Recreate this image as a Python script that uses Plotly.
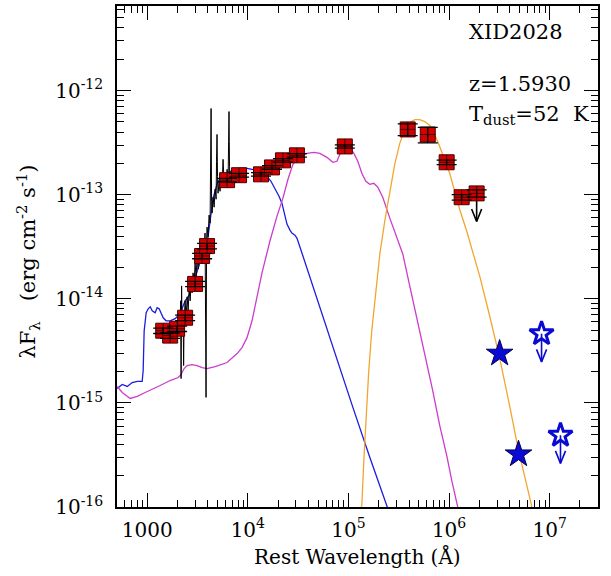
import numpy as np
import plotly.graph_objects as go

# ---------------- data (rest wavelength in Angstrom, lambda*F_lambda in erg cm^-2 s^-1) -------------
phot_wave = [1443, 1691, 1984, 2382, 2994, 3513, 3936, 6223, 8185, 13520, 17380,
             22340, 30760, 92040, 3.88e5, 6.14e5, 9.46e5, 1.334e6, 1.879e6]
phot_flux = [4.94e-15, 4.43e-15, 5.16e-15, 6.58e-15, 1.39e-14, 2.58e-14, 3.21e-14,
             1.38e-13, 1.54e-13, 1.57e-13, 1.83e-13, 2.14e-13, 2.39e-13, 2.91e-13,
             4.24e-13, 3.79e-13, 2.05e-13, 9.46e-14, 1.03e-13]
phot_err_frac = [0.06, 0.06, 0.06, 0.06, 0.06, 0.06, 0.06, 0.04, 0.04, 0.04, 0.04,
                 0.04, 0.04, 0.035, 0.13, 0.17, 0.05, 0.06, 0.08]
phot_upper = [False] * 18 + [True]

radio_wave = [3.18e6, 4.90e6]
radio_flux = [2.98e-15, 3.21e-16]
radio_ul_wave = [8.30e6, 1.28e7]
radio_ul_flux = [4.62e-15, 4.89e-16]

# AGN / unobscured template (blue), log10 values
blue_logwl = [2.702, 2.752, 2.802, 2.851, 2.901, 2.950, 2.960, 2.970, 2.990, 3.010, 3.030,
              3.050, 3.079, 3.099, 3.119, 3.139, 3.159, 3.188, 3.228, 3.278, 3.327, 3.377,
              3.427, 3.466, 3.496, 3.546, 3.595, 3.625, 3.655, 3.694, 3.724, 3.784, 3.853,
              3.923, 3.992, 4.042, 4.091, 4.141, 4.190, 4.230, 4.270, 4.310, 4.339, 4.369,
              4.389, 4.419, 4.438, 4.468, 4.488, 4.538, 4.587, 4.687, 4.786, 4.915, 5.044,
              5.212, 5.431]
blue_logf = [-14.861, -14.823, -14.842, -14.804, -14.794, -14.794, -14.689, -14.306, -14.134,
             -14.096, -14.077, -14.115, -14.134, -14.086, -14.096, -14.144, -14.182, -14.211,
             -14.211, -14.191, -14.144, -14.019, -13.952, -13.828, -13.732, -13.589, -13.474,
             -13.254, -13.033, -12.900, -12.842, -12.794, -12.766, -12.746, -12.746, -12.756,
             -12.766, -12.794, -12.823, -12.871, -12.938, -13.014, -13.081, -13.187, -13.282,
             -13.340, -13.368, -13.388, -13.416, -13.560, -13.703, -14.000, -14.306, -14.670,
             -15.043, -15.522, -16.124]

# host galaxy / starburst template (magenta)
mag_logwl = [2.702, 2.752, 2.831, 2.901, 2.980, 3.050, 3.129, 3.228, 3.308, 3.337, 3.367,
             3.397, 3.446, 3.496, 3.546, 3.595, 3.675, 3.794, 3.893, 3.942, 3.992, 4.042,
             4.091, 4.141, 4.220, 4.290, 4.349, 4.399, 4.448, 4.518, 4.587, 4.657, 4.716,
             4.786, 4.845, 4.885, 4.915, 4.954, 4.984, 5.014, 5.054, 5.093, 5.133, 5.173,
             5.212, 5.252, 5.292, 5.341, 5.411, 5.480, 5.540, 5.609, 5.679, 5.758, 5.837,
             5.907, 5.976, 6.026, 6.085, 6.115]
mag_logf = [-14.842, -14.900, -14.957, -14.938, -14.900, -14.871, -14.833, -14.785, -14.756,
            -14.727, -14.670, -14.641, -14.632, -14.641, -14.660, -14.670, -14.651, -14.612,
            -14.526, -14.469, -14.373, -14.211, -13.990, -13.751, -13.445, -13.206, -13.033,
            -12.852, -12.708, -12.632, -12.603, -12.593, -12.603, -12.641, -12.689, -12.679,
            -12.612, -12.545, -12.517, -12.545, -12.603, -12.679, -12.794, -12.871, -12.900,
            -12.890, -12.928, -13.024, -13.225, -13.407, -13.569, -13.876, -14.182, -14.517,
            -14.880, -15.215, -15.502, -15.742, -15.981, -16.124]

# cold dust greybody (orange)
dust_logwl = [5.103, 5.133, 5.153, 5.173, 5.202, 5.232, 5.272, 5.312, 5.361, 5.411, 5.460,
              5.510, 5.560, 5.609, 5.659, 5.708, 5.758, 5.808, 5.857, 5.907, 5.956, 6.006,
              6.056, 6.105, 6.175, 6.234, 6.304, 6.403, 6.502, 6.601, 6.690, 6.760, 6.819,
              6.839]
dust_logf = [-16.124, -15.981, -15.550, -15.167, -14.689, -14.306, -13.923, -13.569, -13.254,
             -12.967, -12.708, -12.507, -12.373, -12.306, -12.278, -12.278, -12.297, -12.335,
             -12.421, -12.536, -12.660, -12.794, -12.967, -13.139, -13.349, -13.541, -13.780,
             -14.163, -14.565, -15.024, -15.455, -15.742, -15.981, -16.124]

# optical spectrum (black)
spec_logwl = [3.327, 3.332, 3.337, 3.342, 3.347, 3.357, 3.362, 3.367, 3.377, 3.387, 3.397,
              3.407, 3.417, 3.427, 3.437, 3.446, 3.456, 3.466, 3.476, 3.486, 3.496, 3.506,
              3.516, 3.526, 3.536, 3.546, 3.556, 3.565, 3.575, 3.580, 3.585, 3.590, 3.595,
              3.605, 3.615, 3.625, 3.630, 3.635, 3.640, 3.645, 3.655, 3.665, 3.675, 3.685,
              3.689, 3.694, 3.699, 3.704, 3.714, 3.724, 3.734, 3.744, 3.754, 3.764, 3.774,
              3.784, 3.794, 3.804, 3.809, 3.813, 3.818, 3.823, 3.833, 3.843, 3.853, 3.863,
              3.873]
spec_logf = [-14.354, -14.019, -14.766, -13.876, -14.306, -14.115, -14.641, -14.211, -14.019,
             -14.191, -13.981, -14.115, -13.904, -14.019, -13.828, -13.943, -13.751, -13.866,
             -13.656, -13.789, -13.598, -13.713, -13.541, -13.656, -13.483, -13.598, -13.426,
             -13.541, -13.368, -14.019, -14.947, -13.445, -13.311, -13.407, -13.196, -13.273,
             -12.871, -12.172, -13.062, -13.177, -13.024, -13.120, -12.947, -13.043, -12.679,
             -12.421, -12.823, -12.986, -12.890, -12.967, -12.833, -12.928, -12.660, -12.871,
             -12.794, -12.919, -12.756, -12.871, -12.488, -12.201, -12.727, -12.890, -12.794,
             -12.909, -12.833, -12.871, -12.852]

# axes ticks
x_tick_vals = [1e3, 1e4, 1e5, 1e6, 1e7]
x_tick_text = ["1000", "10<sup>4</sup>", "10<sup>5</sup>", "10<sup>6</sup>", "10<sup>7</sup>"]
y_tick_vals = [1e-16, 1e-15, 1e-14, 1e-13, 1e-12]
y_tick_text = ["10<sup>-16</sup>", "10<sup>-15</sup>", "10<sup>-14</sup>",
               "10<sup>-13</sup>", "10<sup>-12</sup>"]
x_decades = [1e2, 1e3, 1e4, 1e5, 1e6, 1e7]
y_decades = [1e-16, 1e-15, 1e-14, 1e-13, 1e-12]
minor_mult = [2, 3, 4, 5, 6, 7, 8, 9]

# ---------------- styles ----------------
FONT = "DejaVu Serif"
RED = "#d40000"
RED_EDGE = "#4a0000"
STAR_BLUE = "#0a0ad2"
ARROW_DEX = 0.27      # arrow length (dex)
HEAD_DEX_Y = 0.12
HEAD_DEX_X = 0.05

fig = go.Figure()

def logline(lx, ly, color, width=1.3):
    fig.add_trace(go.Scatter(x=np.power(10.0, lx), y=np.power(10.0, ly), mode="lines",
                             line=dict(color=color, width=width), hoverinfo="skip"))

logline(blue_logwl, blue_logf, "#1c1ce0")
logline(mag_logwl, mag_logf, "#cc3ccc")
logline(dust_logwl, dust_logf, "#f2a630")
logline(spec_logwl, spec_logf, "black", 1.0)

def add_arrows(xs, ys, color):
    ax, ay = [], []
    for xv, yv in zip(xs, ys):
        lx, ly = np.log10(xv), np.log10(yv)
        tip = ly - ARROW_DEX
        ax += [lx, lx, None, lx - HEAD_DEX_X, lx, lx + HEAD_DEX_X, None]
        ay += [ly, tip, None, tip + HEAD_DEX_Y, tip, tip + HEAD_DEX_Y, None]
    fig.add_trace(go.Scatter(
        x=[None if v is None else 10 ** v for v in ax],
        y=[None if v is None else 10 ** v for v in ay],
        mode="lines", line=dict(color=color, width=1.6), hoverinfo="skip", connectgaps=False))

# upper-limit arrow for the photometric point
ul_x = [w for w, u in zip(phot_wave, phot_upper) if u]
ul_y = [f for f, u in zip(phot_flux, phot_upper) if u]
add_arrows(ul_x, ul_y, "black")

# photometry squares
fig.add_trace(go.Scatter(
    x=phot_wave, y=phot_flux, mode="markers",
    marker=dict(symbol="square-cross", size=15, color=RED,
                line=dict(color=RED_EDGE, width=1)),
    hoverinfo="skip"))

# error bars on top of the squares
err = [f * e for f, e in zip(phot_flux, phot_err_frac)]
fig.add_trace(go.Scatter(
    x=phot_wave, y=phot_flux, mode="markers",
    marker=dict(size=2, opacity=0),
    error_y=dict(type="data", array=err, arrayminus=err, color="black",
                 thickness=1.3, width=10, visible=True),
    hoverinfo="skip"))

# radio points
add_arrows(radio_ul_wave, radio_ul_flux, STAR_BLUE)
fig.add_trace(go.Scatter(
    x=radio_wave, y=radio_flux, mode="markers",
    marker=dict(symbol="star", size=20, color=STAR_BLUE,
                line=dict(color="#00005a", width=1)),
    hoverinfo="skip"))
fig.add_trace(go.Scatter(
    x=radio_ul_wave, y=radio_ul_flux, mode="markers",
    marker=dict(symbol="star-open", size=18, color=STAR_BLUE,
                line=dict(color=STAR_BLUE, width=3)),
    hoverinfo="skip"))

x_minor = [d * m for d in x_decades for m in minor_mult]
y_minor = [d * m for d in y_decades for m in minor_mult]

axis_common = dict(type="log", ticks="inside", ticklen=14, tickwidth=1.2, tickcolor="black",
                   showline=True, linecolor="black", linewidth=1.6, mirror="allticks",
                   showgrid=False, zeroline=False, tickmode="array",
                   tickfont=dict(family=FONT, size=20, color="black"))

fig.update_xaxes(range=[2.70, 7.48], tickvals=x_tick_vals, ticktext=x_tick_text,
                 ticklabelstandoff=4,
                 minor=dict(tickmode="array", tickvals=x_minor, ticks="inside", ticklen=7,
                            tickwidth=1, tickcolor="black", showgrid=False),
                 **axis_common)
fig.update_yaxes(range=[-16, -11.187], tickvals=y_tick_vals, ticktext=y_tick_text,
                 ticklabelstandoff=8,
                 minor=dict(tickmode="array", tickvals=y_minor, ticks="inside", ticklen=7,
                            tickwidth=1, tickcolor="black", showgrid=False),
                 **axis_common)

ann_font = dict(family=FONT, size=21, color="black")
annotations = [
    dict(text="XID2028", x=0.727, y=0.948, xref="paper", yref="paper",
         xanchor="left", yanchor="middle", showarrow=False, font=ann_font),
    dict(text="z=1.5930", x=0.727, y=0.845, xref="paper", yref="paper",
         xanchor="left", yanchor="middle", showarrow=False, font=ann_font),
    dict(text="T<sub>dust</sub>=52  K", x=0.727, y=0.782, xref="paper", yref="paper",
         xanchor="left", yanchor="middle", showarrow=False, font=ann_font),
    dict(text="Rest Wavelength (Å)", x=0.5, y=-0.099, xref="paper", yref="paper",
         xanchor="center", yanchor="middle", showarrow=False,
         font=dict(family=FONT, size=20, color="black")),
    dict(text="λF<sub>λ</sub>   (erg cm<sup>-2</sup> s<sup>-1</sup>)", x=-0.187, y=0.49,
         xref="paper", yref="paper", xanchor="center", yanchor="middle", textangle=-90,
         showarrow=False, font=dict(family=FONT, size=21, color="black")),
]

fig.update_layout(width=611, height=576, margin=dict(l=117, r=13, t=4, b=69),
                  plot_bgcolor="white", paper_bgcolor="white", showlegend=False,
                  font=dict(family=FONT, size=20, color="black"),
                  annotations=annotations)

fig.write_html("out.html")
